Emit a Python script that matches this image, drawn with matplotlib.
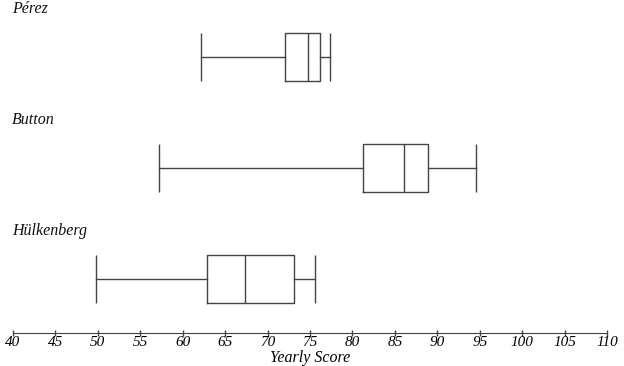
import matplotlib
matplotlib.use("Agg")
import matplotlib.pyplot as plt

drivers = ["Pérez", "Button", "Hülkenberg"]
whisker_low = [62.2, 57.2, 49.8]
q1 = [72.1, 81.2, 62.9]
median = [74.8, 86.1, 67.3]
q3 = [76.2, 88.9, 73.1]
whisker_high = [77.3, 94.6, 75.6]
ticks = list(range(40, 111, 5))

plt.rcParams['font.family'] = ['Liberation Serif', 'DejaVu Serif']

fig = plt.figure(figsize=(6.24, 3.66), dpi=100)
ax = fig.add_axes([12.7/624, 0.091, (607.3-12.7)/624, 0.909])

stats = []
for i, name in enumerate(drivers):
    stats.append(dict(label=name, whislo=whisker_low[i], q1=q1[i], med=median[i],
                      q3=q3[i], whishi=whisker_high[i], fliers=[]))
positions = [3, 2, 1]
color = '#444444'
ax.bxp(stats, positions=positions, vert=False, widths=0.432, showcaps=False,
       boxprops=dict(color=color, linewidth=1),
       medianprops=dict(color=color, linewidth=1),
       whiskerprops=dict(color=color, linewidth=1))
# end caps as full-height lines
for pos, lo, hi in zip(positions, whisker_low, whisker_high):
    ax.vlines([lo, hi], pos - 0.216, pos + 0.216, color=color, linewidth=1)

for pos, name in zip(positions, drivers):
    ax.text(39.9, pos + 0.432, name, ha='left', va='center', fontsize=11.5,
            style='italic', color='#111111')

ax.set_xlim(40, 110)
ax.set_ylim(0.519, 3.516)
ax.set_xticks(ticks)
ax.set_xticklabels([str(t) for t in ticks], fontstyle='italic', fontsize=11)
ax.set_yticks([])
for s in ['top', 'right', 'left']:
    ax.spines[s].set_visible(False)
ax.spines['bottom'].set_color(color)
ax.tick_params(axis='x', direction='inout', length=5, width=1, color=color, pad=0)
ax.set_xlabel('Yearly Score', fontstyle='italic', fontsize=11.5)
ax.xaxis.set_label_coords(0.5, -0.053)
ax.patch.set_alpha(0)
fig.savefig('out.png', dpi=100)
